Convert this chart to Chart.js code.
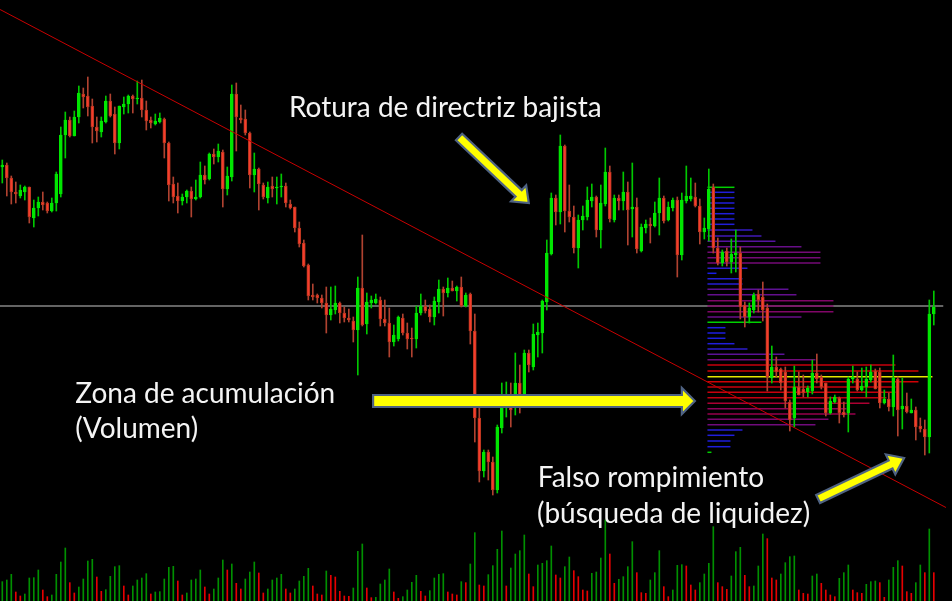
<!DOCTYPE html>
<html>
<head>
<meta charset="utf-8">
<script src="https://cdn.jsdelivr.net/npm/chart.js@4.4.1/dist/chart.umd.min.js"></script>
<style>
html,body{margin:0;padding:0;background:#000;overflow:hidden}
#myChart{display:block}
</style>
</head>
<body>
<canvas id="myChart" width="952" height="601"></canvas>
<script>
// OHLC (arbitrary price units)
var opens = [433,435,422,408,404,408,413,382,392,398, 397,389,397,406,465,480,464,483,506,504,
  494,473,468,478,499,486,457,493,496,504, 501,502,490,480,476,478,481,457,416,404,
  399,403,409,401,403,425,421,446,443,448, 411,423,506,482,481,467,425,431,415,402,
  414,412,413,414,396,393,372,357,335,305, 305,302,297,285,290,297,287,282,279,270,
  312,276,297,297,300,281,277,258,261,282, 267,262,261,287,294,291,283,298,311,307,
  312,309,313,294,306,269,182,129,148,138, 110,172,192,203,193,217,205,247,233,265,
  267,298,346,402,388,454,389,383,352,380, 383,399,403,370,396,428,380,402,399,408,
  391,393,349,372,376,374,387,402,380,392, 400,345,399,401,403,394,368,371,413,352,
  337,349,338,345,347,295,283,290,306,303, 292,222,233,231,228,198,182,213,211,208,
  209,227,223,217,187,198,202,188,187,221, 221,210,213,220,229,228,197,201,193,221,
  191,194,187,190,174,171,163,286];
var highs = [440,437,424,418,415,414,413,400,403,408, 398,402,428,473,488,483,489,514,512,523,
  501,483,483,504,506,493,494,503,505,505, 519,520,499,483,486,487,482,458,423,417,
  406,410,413,420,438,434,447,451,456,450, 433,515,517,495,490,468,447,432,417,418,
  423,423,426,417,400,393,378,360,336,316, 306,305,313,313,314,298,293,291,283,323,
  365,307,304,306,303,300,292,275,284,286, 277,272,294,306,300,295,303,320,313,322,
  319,314,323,307,307,286,192,150,150,143, 175,217,218,217,247,235,250,250,276,277,
  300,360,407,405,465,455,415,394,385,394, 413,416,404,415,452,434,405,405,428,418,
  437,402,376,380,382,398,422,404,398,402, 403,407,434,422,417,401,382,431,416,362,
  350,352,361,370,353,298,297,307,310,318, 296,254,243,232,233,200,234,228,225,214,
  240,246,225,217,203,205,203,198,223,234, 228,232,233,235,231,232,210,207,245,223,
  222,207,201,193,182,180,300,309];
var lows = [417,404,396,397,402,400,377,373,384,390, 387,388,389,403,442,463,464,477,492,484,
  457,458,463,477,483,446,451,486,487,487, 496,483,470,472,475,477,442,399,397,387,
  395,397,383,400,402,416,420,436,438,393, 405,419,449,477,465,412,408,390,401,397,
  403,396,403,393,391,368,353,333,300,300, 297,292,267,280,286,277,278,278,258,225,
  274,266,292,296,274,274,243,254,259,265, 251,243,252,285,287,278,275,287,284,303,
  309,299,293,293,256,158,118,123,120,105, 107,167,183,173,185,187,203,228,230,243,
  247,290,345,375,376,368,378,347,332,370, 380,393,363,352,394,378,378,390,390,355,
  363,347,348,367,357,373,365,377,379,389, 323,340,397,399,393,356,361,359,347,335,
  334,334,327,328,281,273,277,287,288,279, 209,217,223,210,192,169,173,205,203,203,
  206,217,211,184,186,197,177,183,168,217, 209,209,203,218,211,192,196,189,184,164,
  171,187,187,160,168,145,147,275];
var closes = [435,422,408,406,410,413,383,392,398,395, 389,397,426,465,480,464,483,507,503,493,
  473,469,479,499,484,457,494,496,504,501, 502,490,479,477,479,482,457,415,403,399,
  403,409,401,403,425,420,446,443,449,411, 424,506,483,480,467,425,431,416,403,413,
  411,413,414,397,392,372,356,334,304,303, 302,297,285,291,297,287,282,280,270,312,
  275,298,300,301,281,277,258,265,283,267, 261,261,287,294,289,283,299,311,307,312,
  309,313,294,305,269,182,129,148,138,110, 173,193,203,190,217,205,247,235,266,268,
  299,347,402,388,454,389,383,352,380,384, 400,403,370,397,428,381,402,399,408,390,
  393,351,373,376,374,387,402,379,393,400, 345,400,404,404,394,368,372,411,352,337,
  348,338,346,347,293,283,292,305,300,290, 223,233,228,217,199,180,213,205,207,212,
  227,221,213,187,199,203,187,185,221,223, 210,214,221,228,211,197,201,193,222,190,
  194,188,190,173,171,163,286,293];
var volumes = [58,63,80,27,15,21,69,70,93,33, 13,18,80,117,159,55,24,42,66,120,
  125,72,29,34,74,103,106,45,18,45, 63,69,82,21,27,28,66,101,104,60,
  18,24,63,66,93,42,21,36,69,123, 93,111,53,36,66,87,117,84,24,36,
  63,69,80,36,24,36,60,74,98,45, 21,18,90,77,72,29,15,14,39,149,
  171,39,10,11,51,63,96,27,8,13, 33,56,77,29,15,31,69,80,82,27,
  21,18,58,55,111,205,48,45,79,106, 155,210,45,99,141,151,198,81,43,108,
  113,121,165,78,69,103,132,91,73,33, 30,83,87,129,243,141,53,65,73,103,
  178,85,25,23,63,85,151,43,13,33, 107,109,105,48,33,55,81,113,223,55,
  43,35,75,148,161,77,43,45,105,201, 187,69,63,81,115,133,135,33,23,21,
  75,81,53,33,18,13,68,85,108,33, 25,23,50,58,60,55,11,63,101,121,
  105,28,23,55,108,85,216,85];

// volume profile of the last session
var profileStartBar = 156.7;
var profilePrices = [412.7,407.7,402.3,397,391.7,386.3,381,375.7,370,364,
  358.7,353.3,347.7,342.3,337,331.7,326.7,321.3,316,310.7,
  305.3,299.3,294,288.3,283,277.7,272.3,267,261.7,256.3,
  251,245.7,240.3,235,229,223.3,218.3,213,207.7,202.3,
  196.7,191.3,186,180.7,175.3,170,164.7,159,153.3,147.7];
var profileVolumes = [27,27,27,27,27,27,27,27,45,54, 68,94,113,113,113,40,9,35,35,81,
  89,126,126,126,94,54,18,18,18,27, 40,77,108,188,211,225,211,188,188,179,
  162,139,148,121,108,35,27,23,23,4];
var profileMarked = [0,25,49];

// drawn objects
var trendBars = [-0.5, 209.7];
var trendPrices = [590.5, 92.5];
var levelPrice = 294;
var levelBars = [-0.6, 209.1];

var notes = [
  {text: 'Rotura de directriz bajista', bar: 63.7, price: 483},
  {text: 'Zona de acumulación', bar: 16.2, price: 197},
  {text: '(Volumen)', bar: 16.2, price: 162},
  {text: 'Falso rompimiento', bar: 119.0, price: 113},
  {text: '(búsqueda de liquidez)', bar: 118.8, price: 77}
];
var arrows = [
  {from: [101.5, 463], to: [117.0, 397], shaft: 9, head: 14, width: 22},
  {from: [82.4, 199], to: [153.9, 199], shaft: 12, head: 13, width: 26},
  {from: [181.3, 101], to: [200.4, 142], shaft: 9, head: 15, width: 22}
];

const UP = '#00e600', UP_WICK = '#00c800';
const DOWN = '#f53d2d', DOWN_EDGE = '#b8361f', DOWN_WICK = '#b04230';
const VOL_UP = '#009000', VOL_DOWN = '#e60000';

var bodies = [], bodyFill = [], bodyEdge = [], wicks = [], wickColor = [];
var vols = [], volColor = [];
for (let i = 0; i < opens.length; i++) {
  let up = closes[i] >= opens[i];
  bodies.push({x: i, y: [opens[i], closes[i]]});
  bodyFill.push(up ? UP : DOWN);
  bodyEdge.push(up ? UP : DOWN_EDGE);
  wicks.push({x: i, y: [lows[i], highs[i]]});
  wickColor.push(up ? UP_WICK : DOWN_WICK);
  vols.push({x: i, y: volumes[i]});
  volColor.push(i == 0 || volumes[i] > volumes[i-1] ? VOL_UP : VOL_DOWN);
}

// blue -> purple -> red by share of the biggest level
var stops = [[0,[20,30,235]],[0.15,[35,30,215]],[0.3,[85,20,160]],[0.5,[115,10,120]],
  [0.65,[150,0,80]],[0.8,[195,0,15]],[1,[215,0,0]]];
function profileColor(t){
  for (let k = 1; k < stops.length; k++){
    if (t <= stops[k][0]){
      let a = stops[k-1], b = stops[k];
      let f = (t - a[0]) / (b[0] - a[0]);
      let c = a[1].map((v, j) => Math.round(v + (b[1][j] - v) * f));
      return 'rgb(' + c.join(',') + ')';
    }
  }
  return 'rgb(215,0,0)';
}

var maxProfile = Math.max(...profileVolumes);
var profileSets = profilePrices.map((p, k) => {
  let v = profileVolumes[k];
  let color = profileColor(v / maxProfile);
  if (v == maxProfile) color = '#e6e600';
  else if (profileMarked.includes(k)) color = '#00d000';
  return {
    type: 'line',
    data: [{x: profileStartBar, y: p}, {x: profileStartBar + v / 4.5, y: p}],
    borderColor: color,
    borderWidth: 1.5,
    pointRadius: 0,
    order: 3
  };
});

function drawArrow(ctx, x1, y1, x2, y2, shaft, head, width){
  let ang = Math.atan2(y2 - y1, x2 - x1);
  let len = Math.hypot(x2 - x1, y2 - y1);
  ctx.save();
  ctx.translate(x1, y1);
  ctx.rotate(ang);
  ctx.beginPath();
  ctx.moveTo(0, -shaft/2);
  ctx.lineTo(len - head, -shaft/2);
  ctx.lineTo(len - head, -width/2);
  ctx.lineTo(len, 0);
  ctx.lineTo(len - head, width/2);
  ctx.lineTo(len - head, shaft/2);
  ctx.lineTo(0, shaft/2);
  ctx.closePath();
  ctx.fillStyle = '#ffff00';
  ctx.fill();
  ctx.lineWidth = 2.2;
  ctx.strokeStyle = '#4f6383';
  ctx.stroke();
  ctx.restore();
}

const notesPlugin = {
  id: 'notes',
  beforeDraw(chart){
    let c = chart.ctx;
    c.save();
    c.fillStyle = '#000';
    c.fillRect(0, 0, chart.width, chart.height);
    c.restore();
  },
  afterDraw(chart){
    let c = chart.ctx, sx = chart.scales.x, sy = chart.scales.y;
    arrows.forEach(a => {
      drawArrow(c, sx.getPixelForValue(a.from[0]), sy.getPixelForValue(a.from[1]),
        sx.getPixelForValue(a.to[0]), sy.getPixelForValue(a.to[1]), a.shaft, a.head, a.width);
    });
    c.save();
    c.font = '28px Lato';
    c.fillStyle = '#f4f4f4';
    c.textBaseline = 'alphabetic';
    notes.forEach(n => {
      c.fillText(n.text, sx.getPixelForValue(n.bar), sy.getPixelForValue(n.price));
    });
    c.restore();
  }
};

var ctx = document.getElementById('myChart');
var chart = new Chart(ctx, {
  type: 'bar',
  data: {
    datasets: [
      {
        type: 'line',
        data: trendBars.map((b, k) => ({x: b, y: trendPrices[k]})),
        borderColor: '#c80000',
        borderWidth: 1,
        pointRadius: 0,
        order: 0
      },
      {
        data: bodies,
        backgroundColor: bodyFill,
        borderColor: bodyEdge,
        borderWidth: 1,
        borderSkipped: false,
        barThickness: 3,
        minBarLength: 1,
        grouped: false,
        order: 1
      },
      {
        data: wicks,
        backgroundColor: wickColor,
        borderWidth: 0,
        barThickness: 1,
        grouped: false,
        order: 2
      },
      ...profileSets,
      {
        type: 'line',
        data: levelBars.map(b => ({x: b, y: levelPrice})),
        borderColor: '#c8c8c8',
        borderWidth: 1,
        pointRadius: 0,
        order: 4
      },
      {
        data: vols,
        yAxisID: 'yVol',
        backgroundColor: volColor,
        borderWidth: 0,
        barThickness: 1,
        grouped: false,
        order: 5
      }
    ]
  },
  options: {
    responsive: false,
    animation: false,
    events: [],
    layout: {padding: 0},
    plugins: {legend: {display: false}, tooltip: {enabled: false}},
    scales: {
      x: {type: 'linear', display: false, min: -0.511, max: 211.044, offset: false},
      y: {type: 'linear', display: false, min: -1, max: 600},
      yVol: {type: 'linear', display: false, min: 0, max: 1803}
    }
  },
  plugins: [notesPlugin]
});
</script>
</body>
</html>
